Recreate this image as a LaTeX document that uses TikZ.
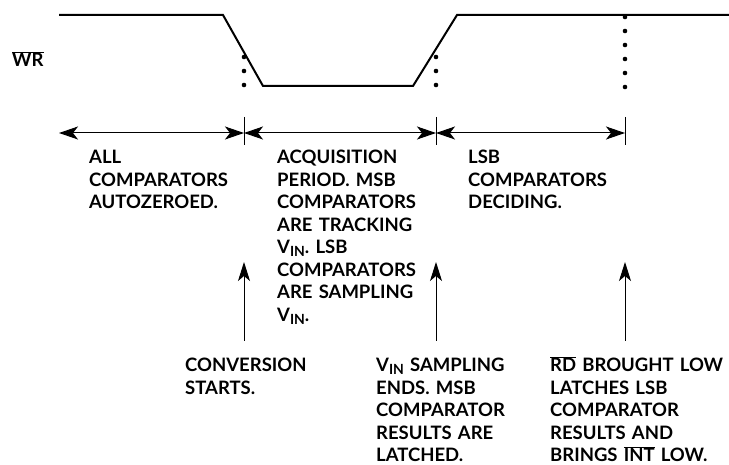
\documentclass[tikz,border=0pt]{standalone}
\usepackage{fontspec}
\setmainfont{Lato}
\usetikzlibrary{
    calc,
    arrows.meta
}
\frenchspacing
\newcommand{\ovl}[1]{$\overline{\mbox{#1}}$}
\newcommand{\vin}{V\raisebox{-0.3ex}{\fontsize{14}{14}\selectfont IN}}
\tikzset{
    wave/.style={line width=2pt, line join=miter},
    tick/.style={line width=0.8pt},
    span/.style={line width=1pt, {Stealth[length=19pt,width=13pt,inset=5pt]}-{Stealth[length=19pt,width=13pt,inset=5pt]}},
    mark up/.style={line width=1pt, -{Stealth[length=19pt,width=12pt,inset=5pt]}},
    note/.style={anchor=base west, inner sep=0pt, align=left, text width=190pt,
        font=\bfseries\fontsize{18.5}{22.5}\selectfont}
}

\begin{document}
\begin{tikzpicture}[x=1pt, y=-1pt]
        \useasboundingbox (0,0) rectangle (729,465);

        % WR waveform
        \draw (12,67) node[note](wr){\ovl{WR}};
        \draw[wave] (59,15) -- (223,15) -- (263,86) -- (413,86) -- (457,15) -- (729,15);
        \foreach \x in {244,436} {
            \foreach \y in {57,71,85} \fill (\x,\y) circle (2.3pt);
        }
        \foreach \y in {17,31,45,59,73,87} \fill (625,\y) circle (2.3pt);

        % span markers
        \coordinate (s0) at (59,133);
        \foreach \i/\x in {1/244, 2/436, 3/625} {
            \coordinate (s\i) at (\x,133);
            \coordinate (k\i t) at (\x,117);
            \coordinate (k\i b) at (\x,145);
            \coordinate (u\i t) at (\x,262);
            \coordinate (u\i b) at (\x,341);
            \draw[tick] (k\i t) -- (k\i b);
            \draw[mark up] (u\i b) -- (u\i t);
        }
        \draw[span] (s0) -- (s1);
        \draw[span] (s1) -- (s2);
        \draw[span] (s2) -- (s3);

        % period texts
        \draw ( 89,164) node[note](p1){ALL\\COMPARATORS\\AUTOZEROED.};
        \draw (277,164) node[note](p2){ACQUISITION\\PERIOD. MSB\\COMPARATORS\\ARE TRACKING\\\vin. LSB\\COMPARATORS\\ARE SAMPLING\\\vin.};
        \draw (468,164) node[note](p3){LSB\\COMPARATORS\\DECIDING.};

        % event texts
        \draw (185,372) node[note](e1){CONVERSION\\STARTS.};
        \draw (376,372) node[note](e2){\vin{} SAMPLING\\ENDS. MSB\\COMPARATOR\\RESULTS ARE\\LATCHED.};
        \draw (550,372) node[note](e3){\ovl{RD} BROUGHT LOW\\LATCHES LSB\\COMPARATOR\\RESULTS AND\\BRINGS \ovl{INT} LOW.};
    \end{tikzpicture}
\end{document}
